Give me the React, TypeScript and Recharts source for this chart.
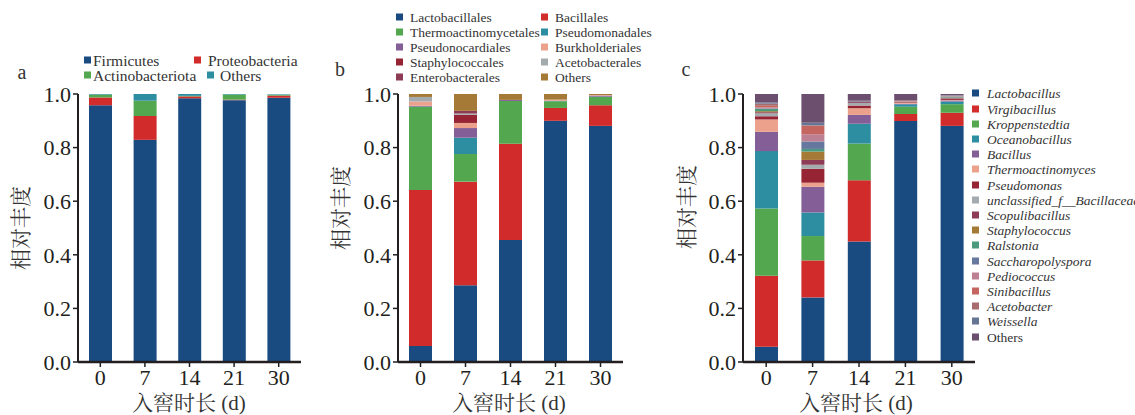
import { BarChart, Bar, XAxis, YAxis } from 'recharts';

const days = ['0', '7', '14', '21', '30'];
const yTicks = [0, 0.2, 0.4, 0.6, 0.8, 1.0];

// a: phylum level
const firmicutes = [0.958, 0.829, 0.984, 0.977, 0.986];
const proteobacteria = [0.029, 0.089, 0.007, 0.002, 0.008];
const actinobacteriota = [0.011, 0.057, 0.002, 0.019, 0.003];
const othersA = [0.002, 0.025, 0.007, 0.002, 0.002];

// b: order level
const lactobacillales = [0.060, 0.286, 0.455, 0.900, 0.881];
const bacillales = [0.582, 0.387, 0.359, 0.048, 0.077];
const thermoactinomycetales = [0.310, 0.103, 0.160, 0.025, 0.031];
const pseudomonadales = [0.001, 0.061, 0.000, 0.001, 0.001];
const pseudonocardiales = [0.003, 0.036, 0.004, 0.001, 0.004];
const burkholderiales = [0.016, 0.019, 0.000, 0.004, 0.002];
const staphylococcales = [0.000, 0.030, 0.000, 0.000, 0.000];
const acetobacterales = [0.017, 0.005, 0.000, 0.000, 0.000];
const enterobacterales = [0.000, 0.010, 0.000, 0.000, 0.000];
const othersB = [0.011, 0.063, 0.022, 0.021, 0.004];

// c: genus level
const lactobacillus = [0.057, 0.241, 0.450, 0.899, 0.881];
const virgibacillus = [0.265, 0.138, 0.228, 0.026, 0.049];
const kroppenstedtia = [0.251, 0.091, 0.137, 0.027, 0.032];
const oceanobacillus = [0.214, 0.088, 0.074, 0.010, 0.010];
const bacillus = [0.072, 0.096, 0.033, 0.002, 0.004];
const thermoactinomyces = [0.046, 0.015, 0.025, 0.003, 0.002];
const pseudomonas = [0.012, 0.052, 0.010, 0.002, 0.004];
const unclassifiedBacillaceae = [0.011, 0.015, 0.010, 0.000, 0.001];
const scopulibacillus = [0.004, 0.018, 0.005, 0.001, 0.003];
const staphylococcus = [0.004, 0.031, 0.000, 0.000, 0.001];
const ralstonia = [0.008, 0.010, 0.000, 0.001, 0.003];
const saccharopolyspora = [0.002, 0.028, 0.000, 0.000, 0.001];
const pediococcus = [0.004, 0.027, 0.000, 0.002, 0.001];
const sinibacillus = [0.006, 0.031, 0.000, 0.003, 0.002];
const acetobacter = [0.008, 0.002, 0.000, 0.000, 0.000];
const weissella = [0.004, 0.010, 0.003, 0.000, 0.002];
const othersC = [0.032, 0.107, 0.025, 0.024, 0.004];

type Series = { name: string; values: number[]; color: string };

const seriesA: Series[] = [
  { name: 'Firmicutes', values: firmicutes, color: '#1a4b80' },
  { name: 'Proteobacteria', values: proteobacteria, color: '#d12b2b' },
  { name: 'Actinobacteriota', values: actinobacteriota, color: '#53a74e' },
  { name: 'Others', values: othersA, color: '#2e8ea1' },
];

const seriesB: Series[] = [
  { name: 'Lactobacillales', values: lactobacillales, color: '#1a4b80' },
  { name: 'Bacillales', values: bacillales, color: '#d12b2b' },
  { name: 'Thermoactinomycetales', values: thermoactinomycetales, color: '#53a74e' },
  { name: 'Pseudomonadales', values: pseudomonadales, color: '#2e8ea1' },
  { name: 'Pseudonocardiales', values: pseudonocardiales, color: '#845f97' },
  { name: 'Burkholderiales', values: burkholderiales, color: '#eba18c' },
  { name: 'Staphylococcales', values: staphylococcales, color: '#962435' },
  { name: 'Acetobacterales', values: acetobacterales, color: '#a4abaf' },
  { name: 'Enterobacterales', values: enterobacterales, color: '#8e3c55' },
  { name: 'Others', values: othersB, color: '#a57a37' },
];

const seriesC: Series[] = [
  { name: 'Lactobacillus', values: lactobacillus, color: '#1a4b80' },
  { name: 'Virgibacillus', values: virgibacillus, color: '#d12b2b' },
  { name: 'Kroppenstedtia', values: kroppenstedtia, color: '#53a74e' },
  { name: 'Oceanobacillus', values: oceanobacillus, color: '#2e8ea1' },
  { name: 'Bacillus', values: bacillus, color: '#845f97' },
  { name: 'Thermoactinomyces', values: thermoactinomyces, color: '#eba18c' },
  { name: 'Pseudomonas', values: pseudomonas, color: '#962435' },
  { name: 'unclassified_f__Bacillaceae', values: unclassifiedBacillaceae, color: '#a4abaf' },
  { name: 'Scopulibacillus', values: scopulibacillus, color: '#8e3c55' },
  { name: 'Staphylococcus', values: staphylococcus, color: '#a57a37' },
  { name: 'Ralstonia', values: ralstonia, color: '#4a9a7e' },
  { name: 'Saccharopolyspora', values: saccharopolyspora, color: '#66789e' },
  { name: 'Pediococcus', values: pediococcus, color: '#bd7f92' },
  { name: 'Sinibacillus', values: sinibacillus, color: '#c4665f' },
  { name: 'Acetobacter', values: acetobacter, color: '#a86b6e' },
  { name: 'Weissella', values: weissella, color: '#677594' },
  { name: 'Others', values: othersC, color: '#6c4f6e' },
];

const serif = '"Liberation Serif", "Times New Roman", serif';
const cjk = '"Liberation Serif", "Noto Serif CJK SC", "Noto Sans CJK SC", serif';
const ink = '#231f20';

function buildRows(series: Series[]) {
  return days.map((day, i) => {
    const row: Record<string, string | number> = { day };
    series.forEach((s) => { row[s.name] = s.values[i]; });
    return row;
  });
}

interface PanelProps {
  series: Series[];
  left: number;
  width: number;
  marginLeft: number;
  marginRight: number;
}

function StackPanel({ series, left, width, marginLeft, marginRight }: PanelProps) {
  const data = buildRows(series);
  return (
    <div style={{ position: 'absolute', left, top: 0 }}>
      <BarChart
        width={width}
        height={415}
        data={data}
        margin={{ top: 94, right: marginRight, bottom: 22, left: marginLeft }}
      >
        <XAxis
          dataKey="day"
          interval={0}
          height={31}
          axisLine={{ stroke: ink, strokeWidth: 2.5 }}
          tickLine={{ stroke: ink, strokeWidth: 1.5 }}
          tickSize={5}
          tickMargin={2}
          tick={{ fill: ink, fontSize: 22, fontFamily: serif }}
        />
        <YAxis
          type="number"
          domain={[0, 1]}
          ticks={yTicks}
          allowDataOverflow
          width={60}
          tickFormatter={(v: number) => v.toFixed(1)}
          axisLine={{ stroke: ink, strokeWidth: 2 }}
          tickLine={{ stroke: ink, strokeWidth: 1.5 }}
          tickSize={5}
          tickMargin={2}
          tick={{ fill: ink, fontSize: 22, fontFamily: serif }}
        />
        {series.map((s) => (
          <Bar
            key={s.name}
            dataKey={s.name}
            stackId="s"
            fill={s.color}
            barSize={23}
            isAnimationActive={false}
          />
        ))}
      </BarChart>
    </div>
  );
}

function Key({ x, y, color, label, size, gap, italic }: {
  x: number; y: number; color: string; label: string; size: number; gap: number; italic?: boolean;
}) {
  return (
    <div style={{ position: 'absolute', left: x, top: y, transform: 'translateY(-50%)', display: 'flex', alignItems: 'center', whiteSpace: 'nowrap', height: 13 }}>
      <div style={{ width: 7, height: 7, background: color, marginRight: gap }} />
      <span style={{ fontSize: size, lineHeight: '13px', fontFamily: serif, color: '#333', fontStyle: italic ? 'italic' : 'normal' }}>
        {label}
      </span>
    </div>
  );
}

function Txt({ x, y, size, children, rotate }: { x: number; y: number; size: number; children: string; rotate?: boolean }) {
  return (
    <div style={{
      position: 'absolute', left: x, top: y, whiteSpace: 'nowrap', lineHeight: 1,
      fontSize: size, fontFamily: cjk, color: '#333',
      transform: `translate(-50%, -50%)${rotate ? ' rotate(-90deg)' : ''}`,
    }}>
      {children}
    </div>
  );
}

export default function App() {
  const legendA = [
    { x: 84, y: 59.5, s: seriesA[0] },
    { x: 194, y: 59.5, s: seriesA[1] },
    { x: 84, y: 74.5, s: seriesA[2] },
    { x: 207, y: 74.5, s: seriesA[3] },
  ];
  return (
    <div style={{ position: 'absolute', left: 0, top: 0, width: 1135, height: 415, background: '#fff', overflow: 'hidden' }}>
      <StackPanel series={seriesA} left={0} width={330} marginLeft={18} marginRight={29} />
      <StackPanel series={seriesB} left={330} width={300} marginLeft={8} marginRight={7} />
      <StackPanel series={seriesC} left={660} width={320} marginLeft={23} marginRight={5} />

      {legendA.map((k, i) => (
        <Key key={k.s.name} x={k.x} y={k.y} color={k.s.color} label={k.s.name} size={15.5} gap={i === 3 ? 6 : i === 1 ? 7 : 2} />
      ))}
      {seriesB.map((s, i) => (
        <Key key={s.name} x={(i % 2 === 0) ? 396 : 541} y={16.5 + Math.floor(i / 2) * 15.1} color={s.color} label={s.name} size={13.5} gap={7} />
      ))}
      {seriesC.map((s, i) => (
        <Key key={s.name} x={972} y={93.3 + i * 15.2} color={s.color} label={s.name} size={13.5} gap={8} italic={s.name !== 'Others'} />
      ))}

      <Txt x={22} y={72} size={20}>a</Txt>
      <Txt x={340} y={69} size={20}>b</Txt>
      <Txt x={686} y={69} size={20}>c</Txt>

      <Txt x={21} y={228} size={21} rotate>相对丰度</Txt>
      <Txt x={341} y={208} size={21} rotate>相对丰度</Txt>
      <Txt x={687} y={207} size={21} rotate>相对丰度</Txt>

      <Txt x={189} y={403} size={21}>入窖时长 (d)</Txt>
      <Txt x={509} y={403} size={21}>入窖时长 (d)</Txt>
      <Txt x={856} y={403} size={21}>入窖时长 (d)</Txt>
    </div>
  );
}
